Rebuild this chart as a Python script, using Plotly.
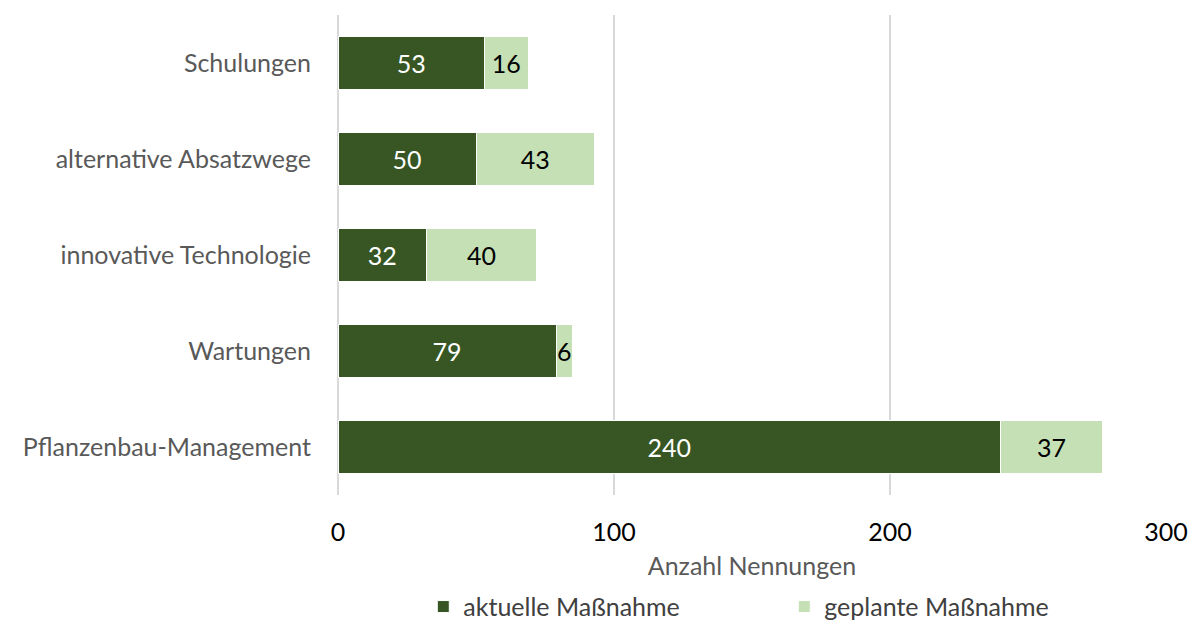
import plotly.graph_objects as go

# categories listed bottom -> top (plotly draws the first category at the bottom)
categories = ["Pflanzenbau-Management", "Wartungen", "innovative Technologie",
              "alternative Absatzwege", "Schulungen"]
aktuell = [240, 79, 32, 50, 53]
geplant = [37, 6, 40, 43, 16]

DARK = "#375623"
LIGHT = "#C5E0B4"
FONT = "Lato, 'Open Sans', sans-serif"
SIZE = 25

fig = go.Figure()
fig.add_trace(go.Bar(
    y=categories, x=aktuell, orientation="h", name="aktuelle Maßnahme",
    marker=dict(color=DARK, line=dict(color="white", width=1)),
    text=aktuell, textposition="inside", insidetextanchor="middle", constraintext="none",
    textfont=dict(color="white", size=SIZE, family=FONT),
))
fig.add_trace(go.Bar(
    y=categories, x=geplant, orientation="h", name="geplante Maßnahme",
    marker=dict(color=LIGHT, line=dict(color="white", width=1)),
    text=geplant, textposition="inside", insidetextanchor="middle", constraintext="none",
    textfont=dict(color="black", size=SIZE, family=FONT),
))

fig.update_layout(
    barmode="stack",
    bargap=0.44,
    width=1190, height=623,
    margin=dict(l=338, r=24, t=15, b=128, autoexpand=False),
    paper_bgcolor="white", plot_bgcolor="white",
    font=dict(family=FONT, size=SIZE, color="#595959"),
    legend=dict(orientation="h", x=0.539, xanchor="center",
                yref="container", y=0.026, yanchor="middle",
                entrywidth=316, font=dict(size=SIZE, color="#404040"),
                itemwidth=30, traceorder="normal"),
    showlegend=True,
)
fig.update_xaxes(
    range=[0, 300], dtick=100, showgrid=True, gridcolor="#d9d9d9", gridwidth=2,
    zeroline=True, zerolinecolor="#d9d9d9", zerolinewidth=2,
    tickfont=dict(color="black", size=SIZE), ticklabelstandoff=20,
    title=dict(text="Anzahl Nennungen", standoff=12, font=dict(size=SIZE, color="#595959")),
    automargin=False, fixedrange=True,
)
fig.update_yaxes(
    showgrid=False, ticklabelstandoff=26, tickfont=dict(size=SIZE, color="#595959"),
    automargin=False, fixedrange=True,
)

# drop the default 8px body margin so the 1190x623 figure fills the window exactly
fig.write_html(
    "out.html",
    config={"displayModeBar": False},
    post_script="document.body.style.margin='0';document.body.style.overflow='hidden';",
)
